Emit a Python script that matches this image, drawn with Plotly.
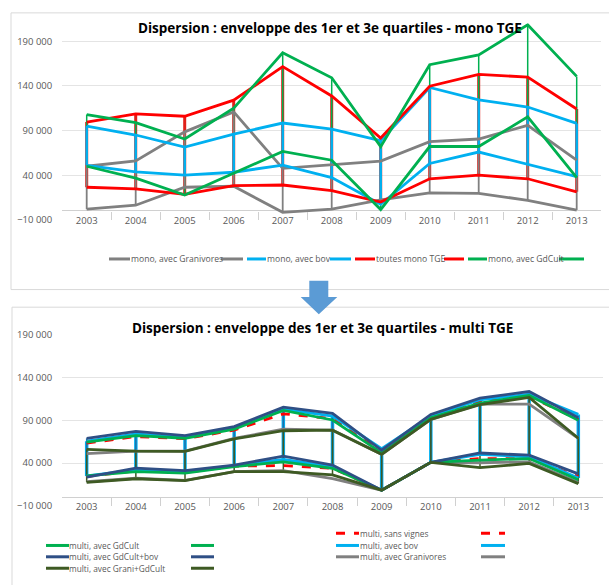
import plotly.graph_objects as go

W, H = 609, 585

years = [str(y) for y in range(2003, 2014)]

# ---- mono TGE (top chart): 1st and 3rd quartiles ----
mono_gran_q3 = [50000, 56000, 88500, 110800, 47700, 51300, 55700, 77600, 80500, 95800, 56800]
mono_gran_q1 = [2000, 6400, 26500, 27600, -1600, 2000, 12300, 20300, 19600, 11900, 950]
mono_bov_q3 = [95000, 85000, 71400, 86000, 98400, 91500, 78700, 138200, 124300, 116300, 98000]
mono_bov_q1 = [51000, 43600, 40000, 43300, 51300, 37400, 7500, 53100, 65900, 52000, 38500]
mono_all_q3 = [99500, 108600, 106000, 124000, 161500, 128700, 81600, 139600, 152800, 149900, 114100]
mono_all_q1 = [26500, 24700, 18500, 28300, 29000, 22800, 10000, 36000, 40000, 36000, 21400]
mono_gdc_q3 = [107900, 98800, 80500, 115000, 177000, 149100, 72000, 163700, 174700, 208300, 150600]
mono_gdc_q1 = [50000, 36700, 17700, 42000, 66600, 56800, 1500, 72100, 72100, 105300, 37400]

# ---- multi TGE (bottom chart) ----
multi_gdc_q3 = [64400, 72000, 69000, 79700, 101500, 90400, 52000, 93000, 110200, 119000, 90000]
multi_gdc_q1 = [25000, 30000, 28200, 35800, 41500, 33900, 8300, 40800, 43400, 45300, 20500]
multi_gdcbov_q3 = [69000, 77000, 72000, 82700, 105300, 98000, 55000, 96900, 116000, 123600, 93000]
multi_gdcbov_q1 = [23600, 34000, 31200, 37700, 48000, 37700, 8300, 40800, 51800, 49200, 27400]
multi_grgdc_q3 = [56000, 54000, 53700, 68200, 77800, 78500, 50300, 91100, 108300, 116700, 69000]
multi_grgdc_q1 = [17500, 21700, 19400, 30000, 30000, 26300, 8300, 40800, 34700, 39600, 16000]
multi_sv_q3 = [63300, 71000, 68500, 78500, 97600, 92000, 53000, 93500, 112000, 118000, 91000]
multi_sv_q1 = [24300, 31000, 29000, 36500, 37000, 34000, 8300, 40800, 45300, 45300, 24300]
multi_bov_q3 = [65600, 74000, 70000, 80800, 103000, 95000, 56800, 95000, 114000, 120500, 96900]
multi_bov_q1 = [25000, 32000, 29700, 37000, 44200, 35800, 8300, 40800, 50300, 47300, 22500]
multi_gran_q3 = [51000, 54000, 54000, 68800, 79700, 78500, 50300, 91100, 109000, 109000, 69000]
multi_gran_q1 = [18200, 22300, 19800, 30000, 31200, 21700, 8300, 40800, 40400, 41500, 17500]

title_top = "Dispersion : enveloppe des 1er et 3e quartiles - mono TGE"
title_bot = "Dispersion : enveloppe des 1er et 3e quartiles - multi TGE"

GREEN, RED, BLUE, GREY = "#00B050", "#FF0000", "#00B0F0", "#808080"
DBLUE, OLIVE = "#2F4F85", "#3E5A23"
FONT = "Open Sans"
TXT = "#595959"

def px(x):
    return x / W

def py(y):
    return 1 - y / H

fig = go.Figure()

def verticals(q1, q3, color, width, xa, ya):
    xs, ys = [], []
    for c, a, b in zip(years, q1, q3):
        xs += [c, c, None]
        ys += [a, b, None]
    fig.add_trace(go.Scatter(x=xs, y=ys, mode="lines", line=dict(color=color, width=width),
                             xaxis=xa, yaxis=ya, showlegend=False, hoverinfo="skip"))

def series(vals, color, width, xa, ya, dash="solid", name=""):
    fig.add_trace(go.Scatter(x=years, y=vals, mode="lines", name=name,
                             line=dict(color=color, width=width, dash=dash),
                             xaxis=xa, yaxis=ya, showlegend=False))

# top chart
verticals(mono_all_q1, mono_all_q3, "#E0201A", 3, "x", "y")
verticals(mono_gdc_q1, mono_gdc_q3, GREEN, 1.5, "x", "y")
verticals(mono_gran_q1, mono_gran_q3, GREY, 1.8, "x", "y")
verticals(mono_bov_q1, mono_bov_q3, BLUE, 2.5, "x", "y")
for q1, q3, col, nm in [(mono_gran_q1, mono_gran_q3, GREY, "mono, avec Granivores"),
                        (mono_bov_q1, mono_bov_q3, BLUE, "mono, avec bov"),
                        (mono_all_q1, mono_all_q3, RED, "toutes mono TGE"),
                        (mono_gdc_q1, mono_gdc_q3, GREEN, "mono, avec GdCult")]:
    series(q3, col, 2.8, "x", "y", name=nm)
    series(q1, col, 2.8, "x", "y", name=nm)

# bottom chart
verticals(multi_bov_q1, multi_bov_q3, BLUE, 3.5, "x2", "y2")
verticals(multi_gdcbov_q1, multi_gdcbov_q3, "#1F6FA8", 1.5, "x2", "y2")
verticals(multi_grgdc_q1, multi_grgdc_q3, OLIVE, 1.5, "x2", "y2")
for q1, q3, col, dash, nm in [(multi_gran_q1, multi_gran_q3, GREY, "solid", "multi, avec Granivores"),
                              (multi_sv_q1, multi_sv_q3, RED, "dash", "multi, sans vignes"),
                              (multi_bov_q1, multi_bov_q3, BLUE, "solid", "multi, avec bov"),
                              (multi_gdc_q1, multi_gdc_q3, GREEN, "solid", "multi, avec GdCult"),
                              (multi_gdcbov_q1, multi_gdcbov_q3, DBLUE, "solid", "multi, avec GdCult+bov"),
                              (multi_grgdc_q1, multi_grgdc_q3, OLIVE, "solid", "multi, avec Grani+GdCult")]:
    series(q3, col, 2.8, "x2", "y2", dash=dash, name=nm)
    series(q1, col, 2.8, "x2", "y2", dash=dash, name=nm)

tickvals = [-10000, 40000, 90000, 140000, 190000]

def yaxis(domain, rng, anchor):
    return dict(domain=domain, range=rng, anchor=anchor, tickvals=tickvals, tickformat=",d",
                showgrid=True, gridcolor="#E4E4E4", gridwidth=1,
                zeroline=True, zerolinecolor="#D0D0D0", zerolinewidth=1,
                showline=False, ticks="", ticklabelstandoff=9,
                tickfont=dict(family=FONT, size=9.5, color=TXT), fixedrange=True)

def xaxis(domain, anchor):
    return dict(domain=domain, anchor=anchor, type="category", range=[-0.5, 10.5],
                tickson="boundaries", ticks="inside", ticklen=8, tickcolor="#D0D0D0",
                ticklabelstandoff=-6,
                showgrid=False, showline=False, zeroline=False,
                tickfont=dict(family=FONT, size=9.5, color=TXT), fixedrange=True)

shapes = []
# chart frames
shapes.append(dict(type="rect", xref="paper", yref="paper", x0=px(11), x1=px(615), y0=py(289), y1=py(6),
                   line=dict(color="#D9D9D9", width=1), layer="below"))
shapes.append(dict(type="rect", xref="paper", yref="paper", x0=px(12), x1=px(615), y0=py(595), y1=py(307),
                   line=dict(color="#D9D9D9", width=1), layer="below"))
# arrow
pts = [(309.3, 280), (328.3, 280), (328.3, 296.7), (337.3, 296.7), (318.8, 314.3),
       (300.7, 296.7), (309.3, 296.7)]
path = "M " + " L ".join(f"{px(a):.5f},{py(b):.5f}" for a, b in pts) + " Z"
shapes.append(dict(type="path", xref="paper", yref="paper", path=path,
                   fillcolor="#5B9BD5", line=dict(width=0)))

annotations = [
    dict(text=f"<b>{title_top}</b>", x=px(330), y=py(21), xref="paper", yref="paper",
         showarrow=False, xanchor="center", yanchor="middle",
         font=dict(family=FONT, size=13.5, color="#000000")),
    dict(text=f"<b>{title_bot}</b>", x=px(322), y=py(328.3), xref="paper", yref="paper",
         showarrow=False, xanchor="center", yanchor="middle",
         font=dict(family=FONT, size=13.5, color="#000000")),
]

def leg(x1, x2, xt, x3, x4, y, color, text, dash="solid", size=8.5):
    for a, b in [(x1, x2), (x3, x4)]:
        shapes.append(dict(type="line", xref="paper", yref="paper", x0=px(a), x1=px(b),
                           y0=py(y), y1=py(y), line=dict(color=color, width=3, dash=dash)))
    if text:
        annotations.append(dict(text=text, x=px(xt), y=py(y), xref="paper", yref="paper",
                                showarrow=False, xanchor="left", yanchor="middle",
                                borderpad=0,
                                font=dict(family=FONT, size=size, color=TXT)))

# top legend
ly = 257.7
ts = 8.6
leg(109, 130, 130, 221, 243, ly, GREY, "mono, avec Granivores", size=ts)
leg(247, 266, 266, 330, 351, ly, BLUE, "mono, avec bov", size=ts)
leg(355, 375, 375, 444, 464, ly, RED, "toutes mono TGE", size=ts)
leg(468, 487, 487, 559, 584, ly, GREEN, "mono, avec GdCult", size=ts)

# bottom legend
bs = 8.3
leg(336, 359, 359, 481, 505, 538.3, RED, "multi, sans vignes", dash="dash", size=bs)
leg(46, 69, 68, 191, 214, 550.7, GREEN, "multi, avec GdCult", size=bs)
leg(336, 359, 359, 481, 505, 550.7, BLUE, "multi, avec bov", size=bs)
leg(46, 69, 68, 191, 214, 562.3, DBLUE, "multi, avec GdCult+bov", size=bs)
leg(336, 359, 359, 481, 505, 562.3, GREY, "multi, avec Granivores", size=bs)
leg(46, 69, 68, 191, 214, 574.0, OLIVE, "multi, avec Grani+GdCult", size=bs)

fig.update_layout(
    width=W, height=H, margin=dict(l=0, r=0, t=0, b=0),
    paper_bgcolor="white", plot_bgcolor="white",
    separators=", ", showlegend=False,
    xaxis=xaxis([px(62.2), px(601.2)], "y"),
    yaxis=yaxis([py(217.7), py(16.7)], [-10000, 210000], "x"),
    xaxis2=xaxis([px(62.1), px(602.9)], "y2"),
    yaxis2=yaxis([py(510.2), py(335.2)], [-10000, 190000], "x2"),
    shapes=shapes, annotations=annotations,
)

fig.write_html("out.html", config={"displayModeBar": False},
               post_script="document.body.style.margin='0';document.body.style.overflow='hidden';")
